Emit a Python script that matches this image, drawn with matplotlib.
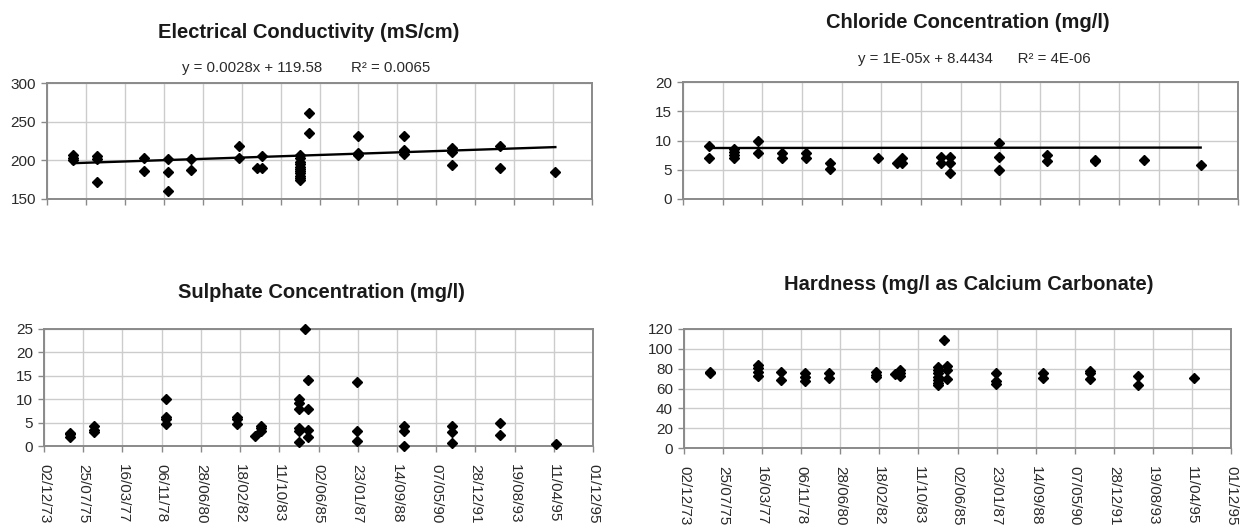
import matplotlib
matplotlib.use("Agg")
import matplotlib.pyplot as plt
import numpy as np

plt.rcParams['font.family'] = ['Liberation Sans', 'DejaVu Sans']

# x values are spreadsheet day numbers (27000 = 02/12/73)
tick_days = list(range(27000, 35401, 600))
tick_labels = ["02/12/73", "25/07/75", "16/03/77", "06/11/78", "28/06/80",
               "18/02/82", "11/10/83", "02/06/85", "23/01/87", "14/09/88",
               "07/05/90", "28/12/91", "19/08/93", "11/04/95", "01/12/95"]

# Electrical conductivity (mS/cm)
ec_day = [27395, 27395, 27395, 27770, 27770, 27770, 28495, 28495,
          28860, 28860, 28860, 29225, 29225, 29955, 29955, 30235,
          30320, 30320,
          30900, 30900, 30900, 30900, 30900, 30900, 30900, 30900, 30900, 30900, 30900,
          31045, 31045, 31790, 31790, 31790, 32510, 32510, 32510,
          33240, 33240, 33240, 33975, 33975, 34835]
ec_val = [207, 203, 200, 205, 202, 172, 203, 186,
          202, 185, 160, 202, 188, 218, 203, 190,
          205, 190,
          207, 203, 198, 195, 192, 189, 186, 183, 180, 177, 175,
          261, 235, 231, 210, 207, 231, 214, 208,
          216, 211, 194, 218, 190, 185]
ec_slope, ec_intercept = 0.0028, 119.58

# Chloride concentration (mg/l)
cl_day = [27395, 27395, 27770, 27770, 27770, 27770, 28135, 28135,
          28495, 28495, 28860, 28860, 29225, 29225, 29955, 30235,
          30320, 30320, 30900, 30900, 31045, 31045, 31045,
          31790, 31790, 31790, 32510, 32510, 33240, 33240, 33975, 34835]
cl_val = [9.0, 7.0, 8.5, 8.0, 7.5, 7.0, 10.0, 7.9,
          7.8, 7.0, 7.8, 7.0, 6.2, 5.1, 7.0, 6.2,
          7.0, 6.2, 7.2, 6.2, 7.2, 6.2, 4.5,
          9.6, 7.1, 5.0, 7.6, 6.5, 6.7, 6.5, 6.6, 5.8]
cl_slope, cl_intercept = 1e-05, 8.4434

# Sulphate concentration (mg/l)
so4_day = [27395, 27395, 27395, 27770, 27770, 27770,
           28860, 28860, 28860, 28860, 29955, 29955, 29955, 30235,
           30320, 30320, 30320,
           30900, 30900, 30900, 30900, 30900, 30900, 31000,
           31045, 31045, 31045, 31045, 31790, 31790, 31790,
           32510, 32510, 32510, 33240, 33240, 33240, 33975, 33975, 34835]
so4_val = [2.8, 2.5, 2.0, 4.2, 3.5, 3.0,
           10.0, 6.3, 5.7, 4.8, 6.3, 5.7, 4.8, 2.1,
           4.3, 3.8, 3.1,
           10.0, 9.1, 8.0, 3.8, 3.3, 0.9, 25.0,
           14.1, 8.0, 3.4, 2.0, 13.6, 3.2, 1.1,
           4.3, 3.2, 0.1, 4.3, 2.9, 0.6, 5.0, 2.4, 0.5]

# Hardness (mg/l as CaCO3)
hard_day = [27395, 27395, 28135, 28135, 28135, 28135, 28495, 28495,
            28860, 28860, 28860, 29225, 29225, 29955, 29955, 29955,
            30235, 30320, 30320, 30320,
            30900, 30900, 30900, 30900, 30900, 30900, 30900, 31000,
            31045, 31045, 31045, 31790, 31790, 31790, 32510, 32510,
            33240, 33240, 33240, 33975, 33975, 34835]
hard_val = [77, 75.5, 84, 81, 77, 73, 77, 69,
            75.5, 72, 68, 75.5, 71, 77, 74, 71.5,
            74.5, 79, 75.5, 73,
            82, 79, 75.5, 72, 69, 66, 64, 108.5,
            82.5, 79, 69.5, 75.5, 68, 65, 75.5, 71,
            78, 75.5, 69.5, 73, 64, 71]

W, H = 1246, 531
fig = plt.figure(figsize=(W / 100, H / 100), dpi=100)


def box(left, top, right, bottom):
    return [left / W, 1 - bottom / H, (right - left) / W, (bottom - top) / H]


def style(ax, ymin, ymax, ystep, labels):
    ax.set_xlim(tick_days[0], tick_days[-1])
    ax.set_ylim(ymin, ymax)
    ax.set_xticks(tick_days)
    ax.set_yticks(np.arange(ymin, ymax + ystep / 2, ystep))
    ax.grid(True, color='#cccccc', linewidth=1.0)
    ax.set_axisbelow(True)
    for s in ax.spines.values():
        s.set_color('#8a8a8a')
        s.set_linewidth(1.4)
    ax.tick_params(axis='both', direction='out', length=4, width=1.0,
                   color='#8a8a8a', labelsize=11, labelcolor='#2a2a2a')
    ax.tick_params(axis='y', pad=4)
    if labels:
        ax.set_xticklabels(tick_labels, rotation=-90)
        ax.tick_params(axis='x', pad=9)
    else:
        ax.set_xticklabels([])


def scatter(ax, x, y):
    ax.plot(x, y, linestyle='none', marker='D', markersize=4.6,
            color='black', zorder=3, clip_on=False)


def trend(ax, x, slope, intercept):
    xs = np.array([min(x), max(x)])
    ax.plot(xs, slope * xs + intercept, color='black', linewidth=1.7, zorder=4)


title_kw = dict(fontsize=14.5, fontweight='bold', color='#1a1a1a',
                ha='center', va='center')
eq_kw = dict(fontsize=10.8, color='#2a2a2a', ha='center', va='center')

# Electrical conductivity
ax1 = fig.add_axes(box(47, 83, 592, 199))
style(ax1, 150, 300, 50, False)
scatter(ax1, ec_day, ec_val)
trend(ax1, ec_day, ec_slope, ec_intercept)
fig.text(309 / W, 1 - 32 / H, "Electrical Conductivity (mS/cm)", **title_kw)
fig.text(306 / W, 1 - 68 / H,
         f"y = {ec_slope:.4f}x + {ec_intercept:.2f}       R\u00b2 = 0.0065", **eq_kw)

# Chloride
ax2 = fig.add_axes(box(683, 82, 1238, 199))
style(ax2, 0, 20, 5, False)
scatter(ax2, cl_day, cl_val)
trend(ax2, cl_day, cl_slope, cl_intercept)
fig.text(968 / W, 1 - 22 / H, "Chloride Concentration (mg/l)", **title_kw)
fig.text(974 / W, 1 - 59 / H,
         f"y = 1E-05x + {cl_intercept:.4f}      R\u00b2 = 4E-06", **eq_kw)

# Sulphate
ax3 = fig.add_axes(box(44, 329, 593, 446))
style(ax3, 0, 25, 5, True)
scatter(ax3, so4_day, so4_val)
fig.text(321 / W, 1 - 292 / H, "Sulphate Concentration (mg/l)", **title_kw)

# Hardness
ax4 = fig.add_axes(box(684, 329, 1231, 448))
style(ax4, 0, 120, 20, True)
scatter(ax4, hard_day, hard_val)
fig.text(969 / W, 1 - 285 / H, "Hardness (mg/l as Calcium Carbonate)", **title_kw)

fig.savefig("out.png", dpi=100)
